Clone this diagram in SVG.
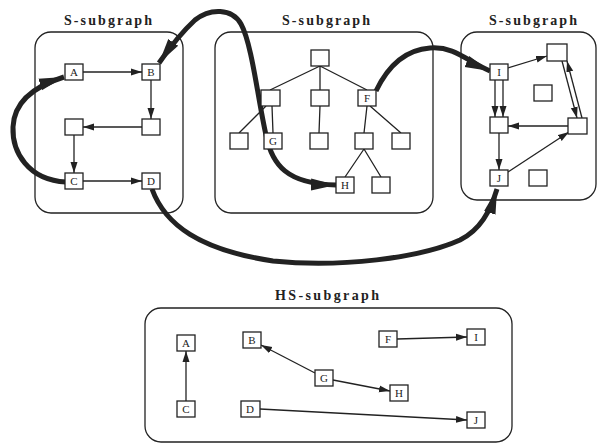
<svg xmlns="http://www.w3.org/2000/svg" width="598" height="445" viewBox="0 0 598 445">
<style>
.box{fill:none;stroke:#222;stroke-width:1.3}
.n rect{fill:#fff;stroke:#222;stroke-width:1.3}
.n text{font-family:"Liberation Serif",serif;font-size:11px;fill:#222;text-anchor:middle}
.title{font-family:"Liberation Serif",serif;font-weight:bold;font-size:14px;fill:#222;text-anchor:middle}
.e{fill:none;stroke:#222;stroke-width:1.3}
.ea{fill:none;stroke:#222;stroke-width:1.3;marker-end:url(#thin)}
.t{fill:none;stroke:#222;stroke-width:5;marker-end:url(#thick)}
</style>
<defs>
<marker id="thin" markerUnits="userSpaceOnUse" markerWidth="12" markerHeight="8" refX="11" refY="4" orient="auto"><path d="M0,0.5 L11,4 L0,7.5 z" fill="#222"/></marker>
<marker id="thick" markerUnits="userSpaceOnUse" markerWidth="26" markerHeight="14" refX="25" refY="7" orient="auto"><path d="M0,1 L25,7 L0,13 z" fill="#222"/></marker>
<marker id="thickS" markerUnits="userSpaceOnUse" markerWidth="26" markerHeight="14" refX="25" refY="7" orient="auto-start-reverse"><path d="M0,1 L25,7 L0,13 z" fill="#222"/></marker>
</defs>
<rect width="598" height="445" fill="#fff"/>
<g id="frames">
<rect class="box" x="35" y="32" width="148" height="181" rx="16"/>
<rect class="box" x="215" y="32" width="218" height="181" rx="16"/>
<rect class="box" x="461" y="32" width="135" height="168" rx="16"/>
<rect class="box" x="145" y="308" width="367" height="134" rx="16"/>
<text class="title" x="108" y="25" textLength="88" lengthAdjust="spacing">S-subgraph</text>
<text class="title" x="326" y="25" textLength="88" lengthAdjust="spacing">S-subgraph</text>
<text class="title" x="533" y="25" textLength="88" lengthAdjust="spacing">S-subgraph</text>
<text class="title" x="327" y="300" textLength="104" lengthAdjust="spacing">HS-subgraph</text>
</g>
<g id="connectors">
<path class="ea" d="M83,72 L142,72"/>
<path class="ea" d="M151,80 L151,119"/>
<path class="ea" d="M142,127 L83,127"/>
<path class="ea" d="M74,135 L74,173"/>
<path class="ea" d="M83,181 L142,181"/>
<path class="e" d="M320,66 L270,90 M320,66 L320,90 M320,66 L367,90 M266,106 L239,133 M272,106 L273,133 M320,106 L319,133 M367,106 L364,133 M370,106 L401,133 M364,149 L345,177 M364,149 L381,177"/>
<path class="ea" d="M508,68 L547,56"/>
<path class="ea" d="M495,80 L495,117"/>
<path class="ea" d="M503,80 L503,117"/>
<path class="ea" d="M562,61 L577,118"/>
<path class="ea" d="M582,118 L567,61"/>
<path class="ea" d="M568,126 L508,126"/>
<path class="ea" d="M499,133 L499,170"/>
<path class="ea" d="M508,172 L569,132"/>
<path class="ea" d="M186,401 L186,351"/>
<path class="ea" d="M315,373 L261,345"/>
<path class="ea" d="M333,380 L390,391"/>
<path class="ea" d="M397,339 L467,337"/>
<path class="ea" d="M260,409 L467,420"/>
<path class="t" d="M66,182 C28,180 12,152 13,127 C14,102 35,86 64,77"/>
<path class="t" style="marker-start:url(#thickS)" d="M159,63 C168,50 182,32 195,20 C210,8 232,8 241,24 C252,44 258,100 266,135 C272,165 287,184 336,185"/>
<path class="t" d="M376,91 C386,70 402,50 430,48 C455,46 468,62 490,71"/>
<path class="t" d="M152,189 C165,225 200,250 273,261 C340,268 420,258 460,240 C480,230 490,212 497,189"/>
</g>
<g id="L-A" class="n"><rect x="65" y="64" width="18" height="16"/><text x="74" y="76">A</text></g>
<g id="L-B" class="n"><rect x="142" y="64" width="18" height="16"/><text x="151" y="76">B</text></g>
<g id="L-1" class="n"><rect x="65" y="119" width="18" height="16"/></g>
<g id="L-2" class="n"><rect x="142" y="119" width="18" height="16"/></g>
<g id="L-C" class="n"><rect x="65" y="173" width="18" height="16"/><text x="74" y="185">C</text></g>
<g id="L-D" class="n"><rect x="142" y="173" width="18" height="16"/><text x="151" y="185">D</text></g>
<g id="M-0" class="n"><rect x="311" y="50" width="18" height="16"/></g>
<g id="M-1" class="n"><rect x="261" y="90" width="19" height="16"/></g>
<g id="M-2" class="n"><rect x="311" y="90" width="18" height="16"/></g>
<g id="M-F" class="n"><rect x="358" y="90" width="18" height="16"/><text x="367" y="102">F</text></g>
<g id="M-3" class="n"><rect x="230" y="133" width="18" height="16"/></g>
<g id="M-G" class="n"><rect x="264" y="133" width="18" height="16"/><text x="273" y="145">G</text></g>
<g id="M-4" class="n"><rect x="310" y="133" width="18" height="16"/></g>
<g id="M-5" class="n"><rect x="355" y="133" width="18" height="16"/></g>
<g id="M-6" class="n"><rect x="392" y="133" width="18" height="16"/></g>
<g id="M-H" class="n"><rect x="336" y="177" width="18" height="16"/><text x="345" y="189">H</text></g>
<g id="M-7" class="n"><rect x="372" y="177" width="18" height="16"/></g>
<g id="R-I" class="n"><rect x="490" y="64" width="18" height="16"/><text x="499" y="76">I</text></g>
<g id="R-1" class="n"><rect x="547" y="44" width="20" height="17"/></g>
<g id="R-2" class="n"><rect x="534" y="85" width="18" height="16"/></g>
<g id="R-3" class="n"><rect x="490" y="117" width="18" height="16"/></g>
<g id="R-4" class="n"><rect x="568" y="118" width="19" height="16"/></g>
<g id="R-J" class="n"><rect x="490" y="170" width="18" height="16"/><text x="499" y="182">J</text></g>
<g id="R-5" class="n"><rect x="529" y="170" width="18" height="16"/></g>
<g id="H-A" class="n"><rect x="177" y="335" width="18" height="16"/><text x="186" y="347">A</text></g>
<g id="H-C" class="n"><rect x="177" y="401" width="18" height="16"/><text x="186" y="413">C</text></g>
<g id="H-B" class="n"><rect x="243" y="332" width="18" height="16"/><text x="252" y="344">B</text></g>
<g id="H-G" class="n"><rect x="315" y="370" width="18" height="16"/><text x="324" y="382">G</text></g>
<g id="H-H" class="n"><rect x="390" y="385" width="18" height="16"/><text x="399" y="397">H</text></g>
<g id="H-D" class="n"><rect x="241" y="401" width="19" height="16"/><text x="250" y="413">D</text></g>
<g id="H-J" class="n"><rect x="467" y="412" width="18" height="16"/><text x="476" y="424">J</text></g>
<g id="H-F" class="n"><rect x="379" y="331" width="18" height="16"/><text x="388" y="343">F</text></g>
<g id="H-I" class="n"><rect x="467" y="329" width="18" height="16"/><text x="476" y="341">I</text></g>
</svg>
